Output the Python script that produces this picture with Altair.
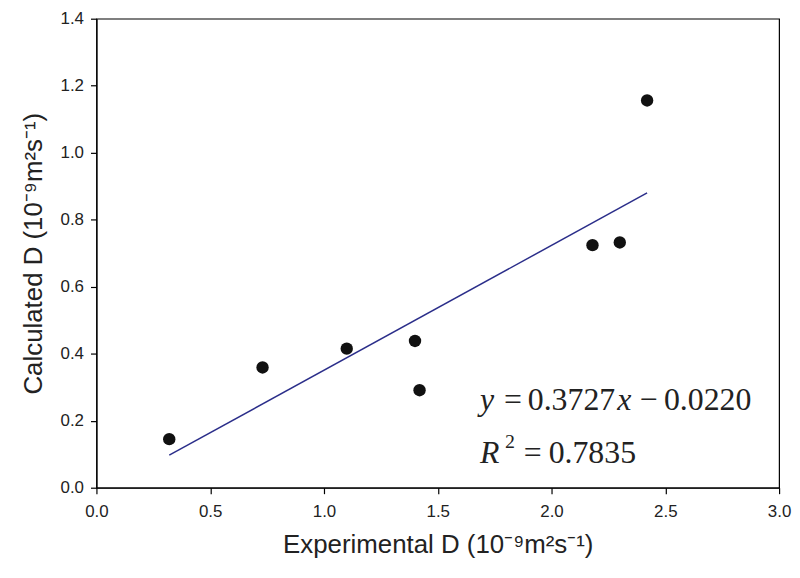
import altair as alt
import pandas as pd

exp_d = [0.32, 0.73, 1.10, 1.40, 1.42, 2.18, 2.30, 2.42]
calc_d = [0.145, 0.359, 0.415, 0.438, 0.291, 0.724, 0.732, 1.156]
slope = 0.3727
intercept = -0.0220
fit_x = [0.32, 2.42]
x_ticks = [0.0, 0.5, 1.0, 1.5, 2.0, 2.5, 3.0]
y_ticks = [0.0, 0.2, 0.4, 0.6, 0.8, 1.0, 1.2, 1.4]

# equation annotation pieces
eq_text = ["y", "=", "0.3727", "x", "−", "0.0220", "R", "2", "=", "0.7835"]
eq_line = [1, 1, 1, 1, 1, 1, 2, 2, 2, 2]

pts = pd.DataFrame({"x": exp_d, "y": calc_d})
fit = pd.DataFrame({"x": fit_x, "y": [slope * v + intercept for v in fit_x]})

xs = alt.Scale(domain=[0, 3], nice=False, zero=False)
ys = alt.Scale(domain=[0, 1.4], nice=False, zero=False)

xaxis = alt.Axis(values=x_ticks, format=".1f", title="Experimental D (10⁻⁹m²s⁻¹)",
                 grid=False, tickSize=6, labelPadding=10, titlePadding=12, labelFlush=False)
yaxis = alt.Axis(values=y_ticks, format=".1f", title="Calculated D (10⁻⁹m²s⁻¹)",
                 grid=False, tickSize=6, labelPadding=7, titlePadding=14, labelFlush=False)

points = alt.Chart(pts).mark_circle(size=155, color="#111111", opacity=1).encode(
    x=alt.X("x:Q", scale=xs, axis=xaxis),
    y=alt.Y("y:Q", scale=ys, axis=yaxis),
)

line = alt.Chart(fit).mark_line(color="#2B2E8A", strokeWidth=1.5).encode(
    x=alt.X("x:Q", scale=xs),
    y=alt.Y("y:Q", scale=ys),
)

# style/offset per piece (layout only)
eq_x = 1.686
eq_y = {1: 0.2314, 2: 0.0742}
eq_dx = [0, 24, 48, 138, 161, 185, 0, 25, 44, 69]
eq_dy = [0, 0, 0, 0, 0, 0, 0, -15, 0, 0]
eq_style = ["italic", "normal", "normal", "italic", "normal", "normal", "italic", "normal", "normal", "normal"]
eq_size = [32, 32, 32, 32, 32, 32, 32, 20, 32, 32]

eq_layers = []
for i, t in enumerate(eq_text):
    row = pd.DataFrame({"x": [eq_x], "y": [eq_y[eq_line[i]]], "t": [t]})
    eq_layers.append(
        alt.Chart(row).mark_text(
            font="Liberation Serif", fontSize=eq_size[i], align="left", baseline="alphabetic",
            dx=eq_dx[i], dy=eq_dy[i], fontStyle=eq_style[i], color="#222222"
        ).encode(x=alt.X("x:Q", scale=xs), y=alt.Y("y:Q", scale=ys), text="t:N")
    )

chart = alt.layer(line, points, *eq_layers).properties(
    width=687, height=472,
    background="white",
    autosize=alt.AutoSizeParams(type="none"),
    padding={"left": 89, "top": 9, "right": 13, "bottom": 74},
).configure_view(stroke="#000000", strokeWidth=1.2).configure_axis(
    domainColor="#000000", tickColor="#000000", domainWidth=1.2, tickWidth=1.2,
    labelFont="Liberation Sans", labelFontSize=17, labelColor="#222222",
    titleFont="Liberation Sans", titleFontSize=26, titleFontWeight="normal", titleColor="#222222",
)

chart.save("out.html", embed_options={"renderer": "svg", "actions": False})
